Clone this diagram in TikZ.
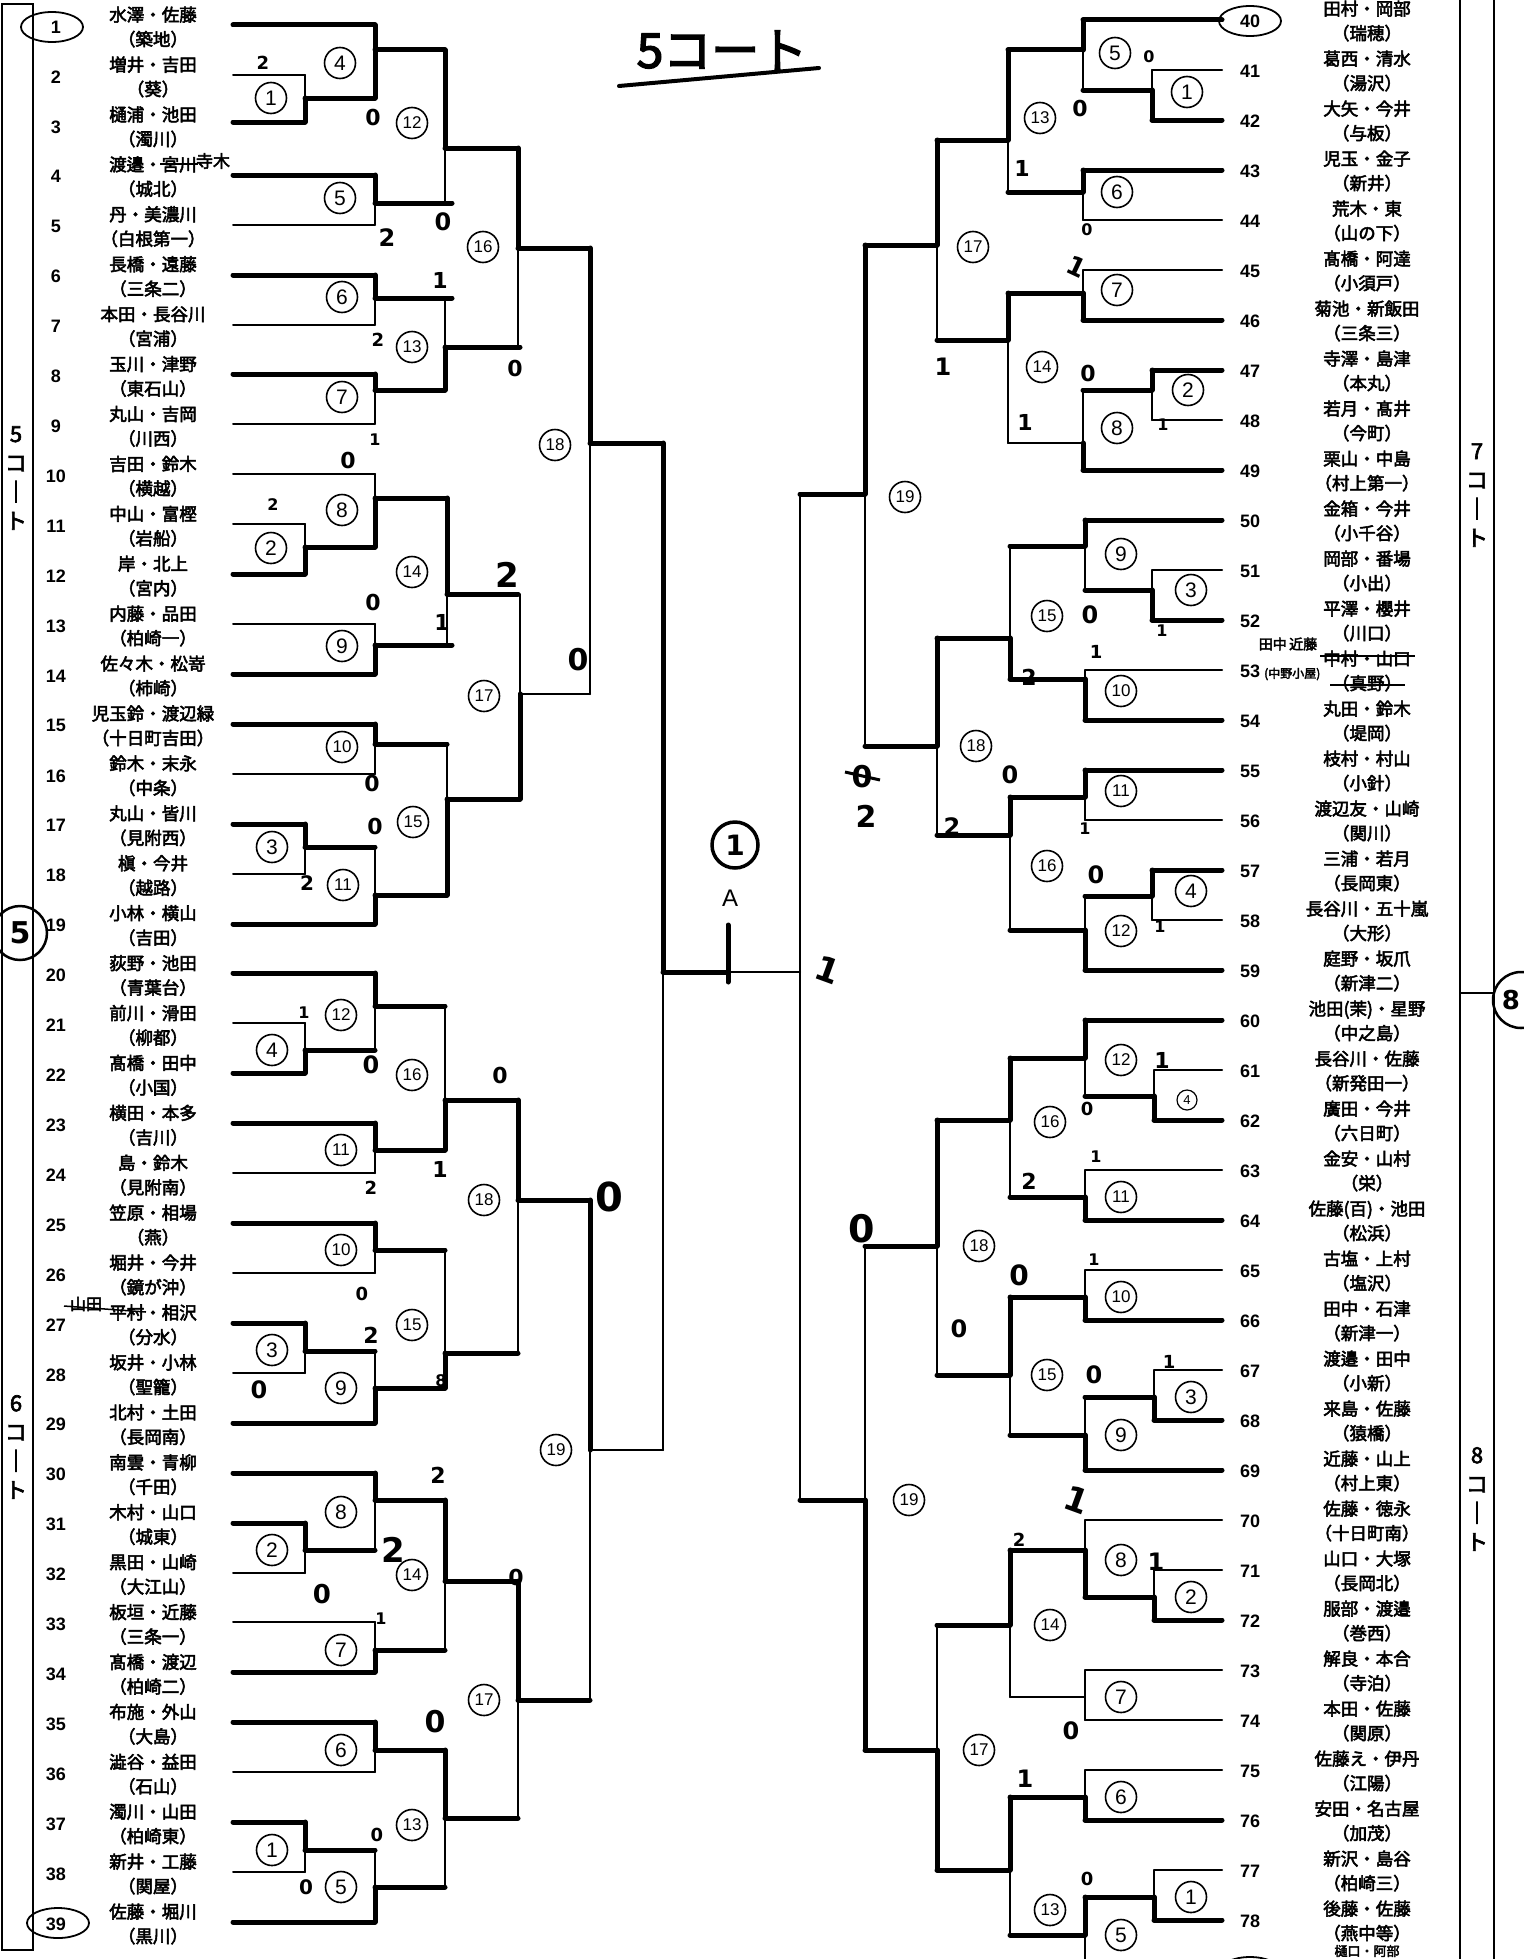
\documentclass[tikz,border=0pt]{standalone}
\usepackage{fontspec}
\setmainfont{Noto Sans CJK JP}
\newfontfamily\jp{Noto Sans CJK JP}[FakeBold=3]
\newfontfamily\numf{Liberation Sans}
\newfontfamily\hand{DejaVu Sans}
\usetikzlibrary{shapes.geometric}
\newcommand\plL[4]{\coordinate (#1s) at (233,#2); \coordinate (#1e) at (#3,#2); \draw[#4] (#1s) -- (#1e);}
\newcommand\plR[4]{\coordinate (#1s) at (1222,#2); \coordinate (#1e) at (#3,#2); \draw[#4] (#1s) -- (#1e);}
\newcommand\mtch[9]{\coordinate (#1a) at (#2,#3); \coordinate (#1b) at (#2,#4); \coordinate (#1o) at (#2,#5); \coordinate (#1e) at (#6,#5); \draw[#7] (#1a) -- (#1o); \draw[#8] (#1o) -- (#1b); \draw[#9] (#1o) -- (#1e);}
\newcommand\cnum[4]{\ifnum#4>9\relax\node[cnn] (#1) at (#2,#3) {#4};\else\node[cn] (#1) at (#2,#3) {#4};\fi}
\newcommand\hnd[5]{\node[hd, font=\hand\bfseries\fontsize{#4}{#4}\selectfont] (#1) at (#2,#3) {#5};}
\begin{document}
\begin{tikzpicture}[x=1pt,y=-1pt,
 win/.style={line width=5pt, line cap=round, line join=round},
 lose/.style={line width=2pt, line cap=round},
 cn/.style={circle, draw, line width=1.6pt, minimum size=31pt, inner sep=0pt, font=\numf\fontsize{21}{21}\selectfont},
 cnn/.style={cn, font=\numf\fontsize{17}{17}\selectfont},
 nm/.style={align=center, inner sep=0pt, font=\jp\fontsize{17.5}{24.5}\selectfont},
 nu/.style={inner sep=0pt, font=\numf\bfseries\fontsize{18}{18}\selectfont},
 hd/.style={inner sep=0pt},
 vt/.style={align=center, inner sep=0pt, font=\jp\fontsize{22}{29}\selectfont},
 ell/.style={ellipse, draw, line width=1.8pt, minimum width=62pt, minimum height=30pt, inner sep=0pt}]
\fill[white] (0,0) rectangle (1523,1959);
\useasboundingbox (0,0) rectangle (1523,1959);

% ---------- side boxes ----------
\coordinate (lb1) at (2,4); \coordinate (lb2) at (33,1950);
\draw[line width=2.5pt] (lb1) rectangle (lb2);
\node[vt] (c5t) at (16,478) {5\\コ\\｜\\ト};
\node[vt] (c6t) at (16,1447) {6\\コ\\｜\\ト};
\node[circle, draw, line width=2.5pt, minimum size=54pt, inner sep=0pt, font=\hand\bfseries\fontsize{30}{30}\selectfont] (c5c) at (20,933) {5};
\coordinate (rb1) at (1460,-5); \coordinate (rb2) at (1460,1965);
\coordinate (rb3) at (1494,-5); \coordinate (rb4) at (1494,1965);
\coordinate (rb5) at (1460,993); \coordinate (rb6) at (1494,993);
\draw[line width=2.5pt] (rb1) -- (rb2); \draw[line width=2.5pt] (rb3) -- (rb4); \draw[line width=2.5pt] (rb5) -- (rb6);
\node[vt] (c7t) at (1477,495) {7\\コ\\｜\\ト};
\node[vt] (c8t) at (1477,1499) {8\\コ\\｜\\ト};
\node[circle, draw, line width=2.5pt, minimum size=56pt, inner sep=0pt] (c8c) at (1521,1000) {};
\node[font=\hand\bfseries\fontsize{26}{26}\selectfont, inner sep=0pt] (c8n) at (1511,1000) {8};

% ---------- title ----------
\node[font=\jp\fontsize{48}{48}\selectfont, inner sep=0pt] (title) at (722,50) {5コート};
\coordinate (ul1) at (619,86); \coordinate (ul2) at (819,68);
\draw[line width=4pt, line cap=round] (ul1) -- (ul2);

% ---------- entries ----------
\foreach \i/\a/\b in {1/水澤・佐藤/築地, 2/増井・吉田/葵, 3/樋浦・池田/濁川, 4/渡邉・宮川/城北, 5/丹・美濃川/白根第一, 6/長橋・遠藤/三条二, 7/本田・長谷川/宮浦, 8/玉川・津野/東石山, 9/丸山・吉岡/川西, 10/吉田・鈴木/横越, 11/中山・富樫/岩船, 12/岸・北上/宮内, 13/内藤・品田/柏崎一, 14/佐々木・松嵜/柿崎, 15/児玉鈴・渡辺緑/十日町吉田, 16/鈴木・末永/中条, 17/丸山・皆川/見附西, 18/槇・今井/越路, 19/小林・横山/吉田, 20/荻野・池田/青葉台, 21/前川・滑田/柳都, 22/髙橋・田中/小国, 23/横田・本多/吉川, 24/島・鈴木/見附南, 25/笠原・相場/燕, 26/堀井・今井/鏡が沖, 27/平村・相沢/分水, 28/坂井・小林/聖籠, 29/北村・土田/長岡南, 30/南雲・青柳/千田, 31/木村・山口/城東, 32/黒田・山崎/大江山, 33/板垣・近藤/三条一, 34/髙橋・渡辺/柏崎二, 35/布施・外山/大島, 36/澁谷・益田/石山, 37/濁川・山田/柏崎東, 38/新井・工藤/関屋, 39/佐藤・堀川/黒川}{
 \pgfmathsetmacro\yy{27+49.92*(\i-1)}
 \node[nu] (ln\i) at (56,\yy) {\i};
 \node[nm] (lnm\i) at (153,\yy) {\a\\（\b）};
}
\foreach \i/\a/\b in {40/田村・岡部/瑞穂, 41/葛西・清水/湯沢, 42/大矢・今井/与板, 43/児玉・金子/新井, 44/荒木・東/山の下, 45/髙橋・阿達/小須戸, 46/菊池・新飯田/三条三, 47/寺澤・島津/本丸, 48/若月・髙井/今町, 49/栗山・中島/村上第一, 50/金箱・今井/小千谷, 51/岡部・番場/小出, 52/平澤・櫻井/川口, 53/中村・山口/真野, 54/丸田・鈴木/堤岡, 55/枝村・村山/小針, 56/渡辺友・山崎/関川, 57/三浦・若月/長岡東, 58/長谷川・五十嵐/大形, 59/庭野・坂爪/新津二, 60/{池田(茉)・星野}/中之島, 61/長谷川・佐藤/新発田一, 62/廣田・今井/六日町, 63/金安・山村/栄, 64/{佐藤(百)・池田}/松浜, 65/古塩・上村/塩沢, 66/田中・石津/新津一, 67/渡邉・田中/小新, 68/来島・佐藤/猿橋, 69/近藤・山上/村上東, 70/佐藤・徳永/十日町南, 71/山口・大塚/長岡北, 72/服部・渡邉/巻西, 73/解良・本合/寺泊, 74/本田・佐藤/関原, 75/佐藤え・伊丹/江陽, 76/安田・名古屋/加茂, 77/新沢・島谷/柏崎三, 78/後藤・佐藤/燕中等}{
 \pgfmathsetmacro\yy{21+50*(\i-40)}
 \node[nu] (rn\i) at (1250,\yy) {\i};
 \node[nm] (rnm\i) at (1367,\yy) {\a\\（\b）};
}
\node[font=\jp\fontsize{13}{13}\selectfont, inner sep=0pt] (rnm79) at (1367,1951) {樋口・阿部};
\node[ell] (e1) at (52,27) {};
\node[ell] (e39) at (58,1923) {};
\node[ell] (e40) at (1250,21) {};
\node[ell] (e79) at (1250,1972) {};

% corrections
\coordinate (s4a) at (160,164); \coordinate (s4b) at (198,164); \draw[line width=1.5pt] (s4a) -- (s4b);
\node[font=\jp\fontsize{17}{17}\selectfont, inner sep=0pt] (h4) at (213,161) {寺木};
\coordinate (s27a) at (64,1306); \coordinate (s27b) at (146,1312); \draw[line width=1.5pt] (s27a) -- (s27b);
\node[font=\jp\fontsize{16}{16}\selectfont, inner sep=0pt] (h27) at (86,1304) {山田};
\coordinate (s53a) at (1320,656); \coordinate (s53b) at (1415,656); \draw[line width=1.5pt] (s53a) -- (s53b);
\coordinate (s53c) at (1330,685); \coordinate (s53d) at (1405,685); \draw[line width=1.5pt] (s53c) -- (s53d);
\node[font=\jp\fontsize{14}{14}\selectfont, inner sep=0pt] (h53a) at (1288,644) {田中\,近藤};
\node[font=\jp\fontsize{12}{12}\selectfont, inner sep=0pt, anchor=west] (h53b) at (1264,674) {(中野小屋)};

% ---------- left player lines ----------
\plL{p1}{25}{375}{win} \plL{p2}{75}{305}{lose} \plL{p3}{122}{305}{win}
\plL{p4}{175}{375}{win} \plL{p5}{225}{375}{lose} \plL{p6}{275}{375}{win}
\plL{p7}{325}{375}{lose} \plL{p8}{374}{375}{win} \plL{p9}{424}{375}{lose}
\plL{p10}{474}{375}{lose} \plL{p11}{524}{305}{lose} \plL{p12}{574}{305}{win}
\plL{p13}{624}{375}{lose} \plL{p14}{674}{375}{win} \plL{p15}{724}{375}{win}
\plL{p16}{774}{375}{lose} \plL{p17}{824}{305}{win} \plL{p18}{874}{305}{lose}
\plL{p19}{924}{375}{win} \plL{p20}{973}{375}{win} \plL{p21}{1023}{305}{lose}
\plL{p22}{1073}{305}{win} \plL{p23}{1123}{375}{win} \plL{p24}{1173}{375}{lose}
\plL{p25}{1223}{375}{win} \plL{p26}{1273}{375}{lose} \plL{p27}{1323}{305}{win}
\plL{p28}{1373}{305}{lose} \plL{p29}{1423}{375}{win} \plL{p30}{1473}{375}{win}
\plL{p31}{1523}{305}{win} \plL{p32}{1573}{305}{lose} \plL{p33}{1622}{375}{lose}
\plL{p34}{1672}{375}{win} \plL{p35}{1722}{375}{win} \plL{p36}{1772}{375}{lose}
\plL{p37}{1822}{305}{win} \plL{p38}{1872}{305}{lose} \plL{p39}{1922}{375}{win}

% ---------- right player lines ----------
\plR{p40}{20}{1083}{win} \plR{p41}{70}{1152}{lose} \plR{p42}{120}{1152}{win}
\plR{p43}{170}{1083}{win} \plR{p44}{220}{1083}{lose} \plR{p45}{270}{1083}{lose}
\plR{p46}{320}{1083}{win} \plR{p47}{370}{1152}{win} \plR{p48}{420}{1152}{lose}
\plR{p49}{470}{1083}{win} \plR{p50}{520}{1085}{win} \plR{p51}{570}{1152}{lose}
\plR{p52}{620}{1152}{win} \plR{p53}{670}{1085}{lose} \plR{p54}{720}{1085}{win}
\plR{p55}{770}{1085}{win} \plR{p56}{820}{1085}{lose} \plR{p57}{870}{1152}{win}
\plR{p58}{920}{1152}{lose} \plR{p59}{970}{1085}{win} \plR{p60}{1020}{1085}{win}
\plR{p61}{1070}{1154}{lose} \plR{p62}{1120}{1154}{win} \plR{p63}{1170}{1085}{lose}
\plR{p64}{1220}{1085}{win} \plR{p65}{1270}{1085}{lose} \plR{p66}{1320}{1085}{win}
\plR{p67}{1370}{1154}{lose} \plR{p68}{1420}{1154}{win} \plR{p69}{1470}{1085}{win}
\plR{p70}{1520}{1085}{lose} \plR{p71}{1570}{1154}{lose} \plR{p72}{1620}{1154}{win}
\plR{p73}{1670}{1085}{lose} \plR{p74}{1720}{1085}{lose} \plR{p75}{1770}{1085}{lose}
\plR{p76}{1820}{1085}{win} \plR{p77}{1870}{1154}{lose} \plR{p78}{1920}{1154}{win}
\plR{p79}{1970}{1085}{win}

% ---------- left top matches ----------
\mtch{La1}{305}{75}{122}{98}{375}{lose}{win}{win}
\mtch{La4}{375}{25}{98}{50}{445}{win}{win}{win}
\mtch{La5}{375}{175}{225}{203}{452}{win}{lose}{win}
\mtch{La12}{445}{50}{203}{148}{518}{win}{lose}{win}
\mtch{La6}{375}{275}{325}{298}{452}{win}{lose}{win}
\mtch{La7}{375}{374}{424}{390}{445}{win}{lose}{win}
\mtch{La13}{445}{298}{390}{347}{520}{lose}{win}{win}
\mtch{La16}{518}{148}{347}{248}{590}{win}{lose}{win}
\mtch{La2}{305}{524}{574}{547}{375}{lose}{win}{win}
\mtch{La8}{375}{474}{547}{498}{447}{lose}{win}{win}
\mtch{La9}{375}{624}{674}{645}{452}{lose}{win}{win}
\mtch{La14}{447}{498}{645}{594}{518}{win}{lose}{win}
\mtch{La10}{375}{724}{774}{744}{447}{win}{lose}{win}
\mtch{La3}{305}{824}{874}{847}{375}{win}{lose}{win}
\mtch{La11}{375}{847}{924}{895}{447}{lose}{win}{win}
\mtch{La15}{447}{744}{895}{799}{520}{lose}{win}{win}
\mtch{La17}{520}{594}{799}{694}{590}{lose}{win}{lose}
\mtch{La18}{590}{248}{694}{443}{663}{win}{lose}{win}

% ---------- left bottom matches ----------
\mtch{Lb4}{305}{1023}{1073}{1050}{375}{lose}{win}{win}
\mtch{Lb12}{375}{973}{1050}{1006}{445}{win}{lose}{win}
\mtch{Lb11}{375}{1123}{1173}{1150}{445}{win}{lose}{win}
\mtch{Lb16}{445}{1006}{1150}{1100}{518}{lose}{win}{win}
\mtch{Lb10}{375}{1223}{1273}{1250}{445}{win}{lose}{win}
\mtch{Lb3}{305}{1323}{1373}{1351}{375}{win}{lose}{win}
\mtch{Lb9}{375}{1351}{1423}{1388}{445}{lose}{win}{win}
\mtch{Lb15}{445}{1250}{1388}{1353}{518}{lose}{win}{win}
\mtch{Lb18}{518}{1100}{1353}{1200}{590}{win}{lose}{win}
\mtch{Lb2}{305}{1523}{1573}{1550}{375}{win}{lose}{win}
\mtch{Lb8}{375}{1473}{1550}{1500}{445}{win}{lose}{win}
\mtch{Lb7}{375}{1622}{1672}{1650}{445}{lose}{win}{win}
\mtch{Lb14}{445}{1500}{1650}{1581}{518}{win}{lose}{win}
\mtch{Lb6}{375}{1722}{1772}{1750}{445}{win}{lose}{win}
\mtch{Lb1}{305}{1822}{1872}{1850}{375}{win}{lose}{win}
\mtch{Lb5}{375}{1850}{1922}{1887}{445}{lose}{win}{win}
\mtch{Lb13}{445}{1750}{1887}{1818}{518}{win}{lose}{win}
\mtch{Lb17}{518}{1581}{1818}{1700}{590}{win}{lose}{win}
\mtch{Lb19}{590}{1200}{1700}{1450}{663}{win}{lose}{lose}

% ---------- right top matches ----------
\mtch{Ra1}{1152}{70}{120}{90}{1083}{lose}{win}{win}
\mtch{Ra5}{1083}{20}{90}{50}{1008}{win}{lose}{win}
\mtch{Ra6}{1083}{170}{220}{192}{1008}{win}{lose}{win}
\mtch{Ra13}{1008}{50}{192}{140}{937}{win}{lose}{win}
\mtch{Ra7}{1083}{270}{320}{293}{1008}{lose}{win}{win}
\mtch{Ra2}{1152}{370}{420}{390}{1083}{win}{lose}{win}
\mtch{Ra8}{1083}{390}{470}{443}{1008}{lose}{win}{lose}
\mtch{Ra14}{1008}{293}{443}{340}{937}{win}{lose}{win}
\mtch{Ra17}{937}{140}{340}{245}{865}{win}{lose}{win}
\mtch{Ra3}{1152}{570}{620}{590}{1085}{lose}{win}{win}
\mtch{Ra9}{1085}{520}{590}{546}{1010}{win}{lose}{win}
\mtch{Ra10}{1085}{670}{720}{679}{1010}{lose}{win}{win}
\mtch{Ra15}{1010}{546}{679}{638}{937}{lose}{win}{win}
\mtch{Ra11}{1085}{770}{820}{797}{1010}{win}{lose}{win}
\mtch{Ra4}{1152}{870}{920}{896}{1085}{win}{lose}{win}
\mtch{Ra12}{1085}{896}{970}{930}{1010}{lose}{win}{win}
\mtch{Ra16}{1010}{797}{930}{835}{937}{win}{lose}{win}
\mtch{Ra18}{937}{638}{835}{746}{865}{win}{lose}{win}
\mtch{Ra19}{865}{245}{746}{494}{800}{win}{lose}{win}

% ---------- right bottom matches ----------
\mtch{Rb4}{1154}{1070}{1120}{1096}{1085}{lose}{win}{win}
\mtch{Rb12}{1085}{1020}{1096}{1058}{1010}{win}{lose}{win}
\mtch{Rb11}{1085}{1170}{1220}{1197}{1010}{lose}{win}{win}
\mtch{Rb16}{1010}{1058}{1197}{1120}{937}{win}{lose}{win}
\mtch{Rb10}{1085}{1270}{1320}{1297}{1010}{lose}{win}{win}
\mtch{Rb3}{1154}{1370}{1420}{1397}{1085}{lose}{win}{win}
\mtch{Rb9}{1085}{1397}{1470}{1435}{1010}{lose}{win}{win}
\mtch{Rb15}{1010}{1297}{1435}{1375}{937}{win}{lose}{win}
\mtch{Rb18}{937}{1120}{1375}{1246}{865}{win}{lose}{win}
\mtch{Rb2}{1154}{1570}{1620}{1597}{1085}{lose}{win}{win}
\mtch{Rb8}{1085}{1520}{1597}{1550}{1010}{lose}{win}{win}
\mtch{Rb7}{1085}{1670}{1720}{1697}{1010}{lose}{lose}{lose}
\mtch{Rb14}{1010}{1550}{1697}{1625}{937}{win}{lose}{win}
\mtch{Rb6}{1085}{1770}{1820}{1797}{1010}{lose}{win}{win}
\mtch{Rb1}{1154}{1870}{1920}{1897}{1085}{lose}{win}{win}
\mtch{Rb5}{1085}{1897}{1970}{1935}{1010}{win}{lose}{win}
\mtch{Rb13}{1010}{1797}{1935}{1870}{937}{win}{lose}{win}
\mtch{Rb17}{937}{1625}{1870}{1750}{865}{lose}{win}{win}
\mtch{Rb19}{865}{1246}{1750}{1500}{800}{lose}{win}{win}

% ---------- final ----------
\mtch{LF}{663}{443}{1450}{972}{728}{win}{lose}{win}
\coordinate (RFa) at (800,494); \coordinate (RFb) at (800,1500); \coordinate (RFo) at (800,972);
\draw[lose] (RFa) -- (RFo); \draw[lose] (RFo) -- (RFb);
\draw[lose] (LFe) -- (RFo);
\coordinate (tk1) at (728,925); \coordinate (tk2) at (728,982); \draw[win] (tk1) -- (tk2);
\node[font=\numf\fontsize{24}{24}\selectfont, inner sep=0pt] (Alab) at (730,898) {A};
\node[circle, draw, line width=3.5pt, minimum size=46pt, inner sep=0pt, font=\hand\bfseries\fontsize{28}{28}\selectfont] (win1) at (735,845) {1};

% ---------- circled match numbers ----------
\cnum{cLa4}{340}{63}{4} \cnum{cLa1}{271}{98}{1} \cnum{cLa12}{412}{123}{12}
\cnum{cLa5}{340}{198}{5} \cnum{cLa16}{483}{247}{16} \cnum{cLa6}{342}{297}{6}
\cnum{cLa13}{412}{347}{13} \cnum{cLa7}{342}{397}{7} \cnum{cLa18}{555}{445}{18}
\cnum{cLa8}{342}{510}{8} \cnum{cLa2}{271}{548}{2} \cnum{cLa14}{412}{572}{14}
\cnum{cLa9}{342}{646}{9} \cnum{cLa17}{484}{696}{17} \cnum{cLa10}{342}{747}{10}
\cnum{cLa15}{413}{822}{15} \cnum{cLa3}{272}{847}{3} \cnum{cLa11}{343}{885}{11}
\cnum{cLb12}{341}{1015}{12} \cnum{cLb4}{272}{1050}{4} \cnum{cLb16}{412}{1075}{16}
\cnum{cLb11}{341}{1150}{11} \cnum{cLb18}{484}{1200}{18} \cnum{cLb10}{341}{1250}{10}
\cnum{cLb15}{412}{1325}{15} \cnum{cLb3}{272}{1350}{3} \cnum{cLb9}{341}{1388}{9}
\cnum{cLb19}{556}{1450}{19} \cnum{cLb8}{341}{1512}{8} \cnum{cLb2}{272}{1550}{2}
\cnum{cLb14}{412}{1575}{14} \cnum{cLb7}{341}{1650}{7} \cnum{cLb17}{484}{1700}{17}
\cnum{cLb6}{341}{1750}{6} \cnum{cLb13}{412}{1825}{13} \cnum{cLb1}{272}{1850}{1}
\cnum{cLb5}{341}{1887}{5}
\cnum{cRa5}{1115}{53}{5} \cnum{cRa1}{1187}{92}{1} \cnum{cRa13}{1040}{118}{13}
\cnum{cRa6}{1117}{192}{6} \cnum{cRa17}{973}{247}{17} \cnum{cRa7}{1117}{290}{7}
\cnum{cRa14}{1042}{367}{14} \cnum{cRa2}{1188}{390}{2} \cnum{cRa8}{1117}{428}{8}
\cnum{cRa19}{905}{497}{19} \cnum{cRa9}{1121}{554}{9} \cnum{cRa3}{1191}{590}{3}
\cnum{cRa15}{1047}{616}{15} \cnum{cRa10}{1121}{691}{10} \cnum{cRa18}{976}{746}{18}
\cnum{cRa11}{1121}{791}{11} \cnum{cRa16}{1047}{866}{16} \cnum{cRa4}{1191}{891}{4}
\cnum{cRa12}{1121}{931}{12}
\cnum{cRb12}{1121}{1060}{12} \cnum{cRb16}{1050}{1122}{16} \cnum{cRb11}{1121}{1197}{11}
\cnum{cRb18}{979}{1246}{18} \cnum{cRb10}{1121}{1297}{10} \cnum{cRb15}{1047}{1375}{15}
\cnum{cRb3}{1191}{1397}{3} \cnum{cRb9}{1121}{1435}{9} \cnum{cRb19}{909}{1500}{19}
\cnum{cRb8}{1121}{1560}{8} \cnum{cRb2}{1191}{1597}{2} \cnum{cRb14}{1050}{1625}{14}
\cnum{cRb7}{1121}{1697}{7} \cnum{cRb17}{979}{1750}{17} \cnum{cRb6}{1121}{1797}{6}
\cnum{cRb13}{1050}{1910}{13} \cnum{cRb1}{1191}{1897}{1} \cnum{cRb5}{1121}{1935}{5}
\node[circle, draw, line width=1.2pt, minimum size=20pt, inner sep=0pt, font=\numf\fontsize{13}{13}\selectfont] (cRb4) at (1187,1100) {4};

% ---------- handwritten scores ----------
\hnd{h1}{263}{63}{18}{2} \hnd{h2}{373}{117}{22}{0} \hnd{h3}{387}{238}{24}{2}
\hnd{h4s}{443}{222}{24}{0} \hnd{h5}{440}{280}{22}{1} \hnd{h6}{378}{340}{18}{2}
\hnd{h7}{515}{368}{22}{0} \hnd{h8}{375}{440}{16}{1} \hnd{h9}{348}{460}{22}{0}
\hnd{h10}{273}{505}{16}{2} \hnd{h11}{373}{602}{22}{0} \hnd{h12}{442}{622}{22}{1}
\hnd{h13}{507}{575}{34}{2} \hnd{h14}{578}{660}{30}{0} \hnd{h15}{372}{783}{22}{0}
\hnd{h16}{375}{826}{22}{0} \hnd{h17}{307}{883}{20}{2}
\hnd{h18}{304}{1013}{16}{1} \hnd{h19}{371}{1065}{24}{0} \hnd{h20}{500}{1075}{22}{0}
\hnd{h21}{440}{1169}{22}{1} \hnd{h22}{371}{1188}{18}{2} \hnd{h23}{609}{1197}{40}{0}
\hnd{h24}{362}{1294}{18}{0} \hnd{h25}{371}{1335}{22}{2} \hnd{h26}{259}{1390}{24}{0}
\hnd{h27}{441}{1381}{16}{8} \hnd{h28}{438}{1475}{22}{2} \hnd{h29}{393}{1550}{34}{2}
\hnd{h30}{322}{1594}{26}{0} \hnd{h31}{381}{1619}{16}{1} \hnd{h32}{516}{1577}{22}{0}
\hnd{h33}{435}{1722}{30}{0} \hnd{h34}{377}{1835}{18}{0} \hnd{h35}{306}{1887}{20}{0}
\hnd{h40}{1149}{57}{16}{0} \hnd{h41}{1080}{108}{22}{0} \hnd{h42}{1022}{168}{22}{1}
\hnd{h43}{1087}{230}{16}{0} \hnd{h45}{1088}{373}{22}{0}
\hnd{h46}{1163}{425}{16}{1} \hnd{h47}{1025}{422}{22}{1} \hnd{h48}{943}{367}{24}{1}
\hnd{h49}{1090}{615}{24}{0} \hnd{h50}{1162}{631}{16}{1} \hnd{h51}{1096}{652}{18}{1}
\hnd{h52}{1029}{677}{22}{2} \hnd{h53}{1010}{775}{24}{0} \hnd{h54}{1085}{829}{16}{1}
\hnd{h55}{1096}{875}{24}{0} \hnd{h56}{1160}{927}{16}{1} \hnd{h57}{952}{827}{24}{2}
\hnd{h58}{862}{777}{30}{0} \hnd{h59}{866}{816}{30}{2}
\coordinate (sx1) at (845,772); \coordinate (sx2) at (880,780); \draw[line width=3pt] (sx1) -- (sx2);
\hnd{h60}{1162}{1060}{22}{1} \hnd{h61}{1087}{1109}{18}{0} \hnd{h62}{1096}{1157}{16}{1}
\hnd{h63}{1029}{1181}{22}{2} \hnd{h64}{1094}{1260}{16}{1} \hnd{h65}{1019}{1275}{28}{0}
\hnd{h66}{959}{1329}{24}{0} \hnd{h67}{1169}{1362}{18}{1} \hnd{h68}{1094}{1375}{24}{0}
\hnd{h69}{862}{1229}{38}{0} \hnd{h71}{1019}{1540}{18}{2}
\hnd{h72}{1156}{1562}{24}{1} \hnd{h73}{1071}{1731}{24}{0} \hnd{h74}{1025}{1779}{24}{1}
\hnd{h75}{1087}{1879}{18}{0}
\node[hd, rotate=-25, font=\hand\bfseries\fontsize{26}{26}\selectfont] (h44) at (1077,267) {1};
\node[hd, rotate=-20, font=\hand\bfseries\fontsize{34}{34}\selectfont] (h70) at (1077,1500) {1};
\node[hd, rotate=-20, font=\hand\bfseries\fontsize{34}{34}\selectfont] (hc1) at (828,970) {1};
\end{tikzpicture}
\end{document}
